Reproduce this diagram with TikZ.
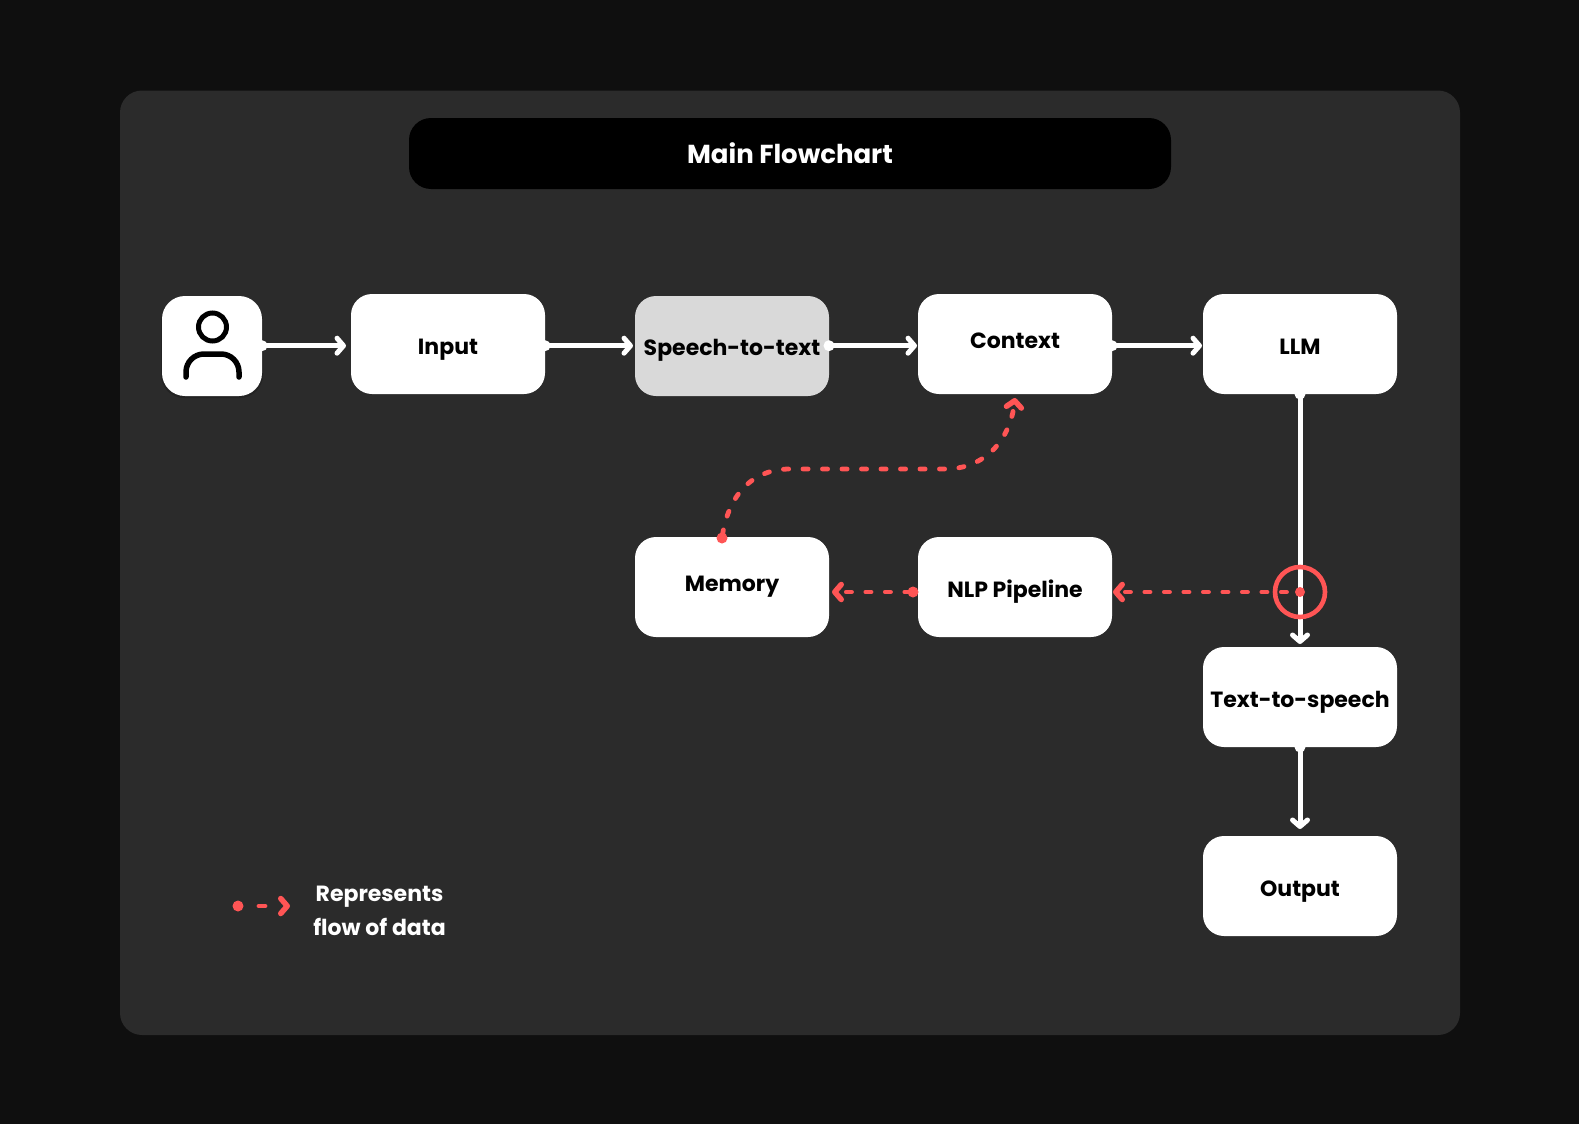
\documentclass[tikz,border=0pt]{standalone}
\usepackage{fontspec}
\setmainfont{Poppins}
\usetikzlibrary{arrows.meta}
\definecolor{bgc}{HTML}{0F0F0F}
\definecolor{panelc}{HTML}{2B2B2B}
\definecolor{redc}{HTML}{FF5555}
\definecolor{grayc}{HTML}{D9D9D9}
\newcommand{\lbl}[2]{\raisebox{#1pt}{#2}}
\tikzset{
  x=1pt,y=-1pt,
  boxn/.style={fill=white,rounded corners=21pt,minimum width=194pt,minimum height=100pt,inner sep=0pt,outer sep=0pt,text height=0pt,text depth=0pt,font=\fontsize{22}{26}\selectfont\bfseries,text=black,anchor=north west},
  flow/.style={white,line width=5pt,-{Straight Barb[length=6.5pt,width=15pt,round,line width=5pt]}},
  flowred/.style={redc,line width=4.8pt,line cap=round,dash pattern=on 5.2pt off 14.3pt,-{Straight Barb[length=6.5pt,width=15pt,round,line width=5.5pt]}},
  knob/.style={circle,fill=white,inner sep=0pt,minimum size=11pt},
  reddot/.style={circle,fill=redc,inner sep=0pt,minimum size=11pt},
  legendtext/.style={font=\fontsize{22}{34}\selectfont\bfseries,text=white,align=center}
}
\begin{document}
\begin{tikzpicture}
\useasboundingbox (0,0) rectangle (1579,1124);
\fill[bgc] (0,0) rectangle (1579,1124);
\fill[panelc,rounded corners=22pt] (120,90.5) rectangle (1460,1035);
\node[fill=black,rounded corners=22pt,minimum width=762pt,minimum height=71pt,inner sep=0pt,text=white,font=\fontsize{26}{30}\selectfont\bfseries] (title) at (790,153.5) {Main Flowchart};

\fill[black,opacity=.18,rounded corners=23pt] (161,298) rectangle (263,398);
\node[boxn,minimum width=100pt,rounded corners=23pt] (user) at (162,296) {};
\node[boxn] (input) at (351,294) {\lbl{-10}{Input}};
\node[boxn,fill=grayc] (stt) at (635,296) {\lbl{-9.5}{Speech-to-text}};
\node[boxn] (context) at (918,294) {\lbl{-4}{Context}};
\node[boxn] (llm) at (1203,294) {\lbl{-10.2}{LLM}};
\node[boxn] (memory) at (635,537) {\lbl{-4}{Memory}};
\node[boxn] (nlp) at (918,537) {\lbl{-10.5}{NLP Pipeline}};
\node[boxn] (tts) at (1203,647) {\lbl{-10.4}{Text-to-speech}};
\node[boxn] (output) at (1203,836) {\lbl{-10.5}{Output}};

% user icon
\draw[black,line width=5pt] (212.5,327) circle (14);
\draw[black,line width=5.5pt,line cap=round,rounded corners=18pt] (186,377) -- (186,354) -- (239,354) -- (239,377);

% white connectors
\coordinate (rowy) at (0,345.7);
\node[knob] (k1) at (user.east |- rowy) {};
\node[knob] (k2) at (input.east |- rowy) {};
\node[knob] (k3) at (stt.east |- rowy) {};
\node[knob] (k4) at (context.east |- rowy) {};
\coordinate (ii) at (input.west |- rowy);
\coordinate (si) at (stt.west |- rowy);
\coordinate (ci) at (context.west |- rowy);
\coordinate (li) at (llm.west |- rowy);
\draw[flow,shorten >=5pt] (k1.center) -- (ii);
\draw[flow,shorten >=2pt] (k2.center) -- (si);
\draw[flow,shorten >=1pt] (k3.center) -- (ci);
\draw[flow,shorten >=1pt] (k4.center) -- (li);
\node[knob] (k5) at (llm.south) {};
\node[knob] (k6) at (tts.south) {};
\draw[flow,shorten >=3pt] (k5.center) -- (tts.north);
\draw[flow,shorten >=7pt] (k6.center) -- (output.north);

% red connectors
\node[reddot,minimum size=10pt] (tap) at (llm.south |- 0,592) {};
\node[circle,draw=redc,line width=4.6pt,minimum size=50pt,inner sep=0pt] (ring) at (tap) {};
\node[reddot] (d1) at ([xshift=-5pt]nlp.west |- tap) {};
\node[reddot] (d2) at (722,538) {};
\coordinate (nlpin) at (nlp.east |- tap);
\coordinate (memin) at (memory.east |- tap);
\coordinate (ctxin) at (1015,398);
\draw[flowred,dash phase=6pt,shorten >=1pt] (tap.center) -- (nlpin);
\draw[flowred,dash phase=-3pt,shorten >=3pt] (d1.center) -- (memin);
\draw[flowred,dash phase=-3pt] (d2.center) .. controls (728,495) and (752,469) .. (790,469) -- (945,469) .. controls (985,469) and (1010,440) .. (ctxin);

% legend
\node[reddot] (l1) at (238,906) {};
\coordinate (l2) at (290,906);
\draw[redc,line width=4.8pt,line cap=round,dash pattern=on 0pt off 21pt on 6pt off 100pt,-{Straight Barb[length=6.5pt,width=15pt,round,line width=5.5pt]}] (l1.center) -- (l2);
\node[legendtext] (legend) at (379.5,910.5) {Represents\\flow of data};
\end{tikzpicture}
\end{document}
